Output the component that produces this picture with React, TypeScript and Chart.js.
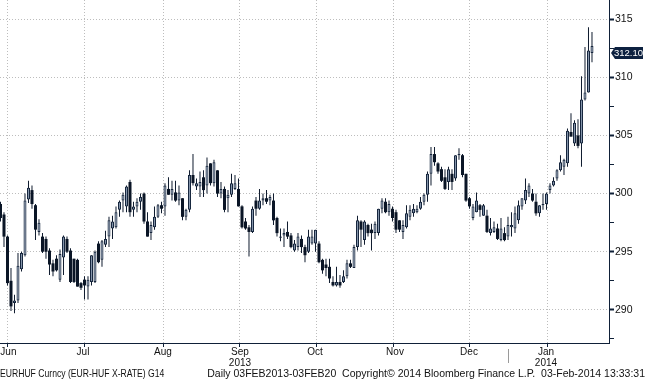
import React, { useEffect, useRef } from 'react';
import { Chart, registerables } from 'chart.js';

Chart.register(...registerables);

// Daily EUR-HUF candles, mid-June 2013 to 3 Feb 2014 (index = trading day)
const opens = [
  299.1, 298.2, 296.3, 292.5, 290.6, 290.8, 293.5, 294.7, 299.5, 300.3,
  299.0, 296.7, 296.3, 296.1, 295.1, 294.0, 294.4, 292.6, 294.5, 296.1,
  295.1, 294.4, 294.3, 292.3, 292.6, 292.0, 292.4, 292.4, 295.7, 294.3,
  295.6, 296.3, 297.0, 297.1, 298.6, 299.4, 298.9, 301.0, 298.6, 298.9,
  299.3, 300.0, 297.6, 296.6, 297.1, 298.0, 299.0, 298.9, 300.4, 299.9,
  300.1, 299.4, 299.6, 298.0, 298.6, 301.6, 300.6, 300.6, 301.4, 300.7,
  302.6, 300.9, 302.0, 300.0, 300.4, 299.6, 299.9, 300.4, 300.4, 298.9,
  297.6, 297.1, 296.7, 299.4, 298.7, 299.4, 299.6, 299.4, 299.4, 297.9,
  296.2, 296.4, 296.7, 296.4, 295.1, 295.4, 296.1, 295.4, 295.0, 295.7,
  295.7, 295.7, 294.3, 293.9, 293.7, 292.4, 292.1, 292.4, 292.4, 292.9,
  294.0, 293.6, 295.4, 297.6, 296.0, 297.3, 296.9, 296.6, 296.6, 298.7,
  299.3, 298.4, 298.7, 298.4, 297.7, 296.7, 297.1, 298.0, 298.3, 298.4,
  298.7, 299.3, 299.9, 301.7, 303.4, 302.6, 302.1, 301.4, 301.0, 301.7,
  301.3, 303.3, 303.3, 301.7, 299.6, 297.9, 298.4, 299.0, 298.1, 298.1,
  296.6, 296.7, 297.0, 296.0, 296.6, 296.3, 297.1, 297.0, 297.7, 298.9,
  299.4, 300.0, 300.0, 299.3, 298.3, 299.0, 299.1, 300.3, 300.7, 301.3,
  302.0, 302.3, 302.6, 305.3, 304.3, 305.0, 304.3, 308.1, 308.7, 312.1,
];
const highs = [
  299.3, 298.4, 296.4, 293.6, 291.3, 294.9, 295.0, 300.0, 301.1, 300.7,
  299.1, 297.8, 296.6, 296.3, 295.3, 294.3, 294.7, 295.2, 296.4, 296.3,
  295.3, 294.4, 294.4, 292.4, 292.9, 292.9, 294.7, 295.1, 295.9, 296.0,
  296.8, 298.0, 298.1, 298.9, 299.4, 300.1, 300.7, 301.2, 299.3, 299.6,
  300.0, 300.1, 298.4, 297.6, 298.9, 299.1, 299.3, 300.9, 301.4, 301.1,
  301.1, 300.7, 299.6, 298.7, 302.0, 303.4, 301.3, 301.9, 302.0, 303.1,
  302.6, 302.9, 302.0, 301.0, 300.6, 300.3, 301.7, 301.6, 301.3, 299.0,
  297.9, 297.3, 298.9, 299.7, 300.4, 300.0, 300.3, 299.9, 300.0, 298.0,
  297.0, 297.0, 297.6, 296.6, 296.0, 296.6, 296.4, 295.6, 296.9, 296.9,
  296.9, 295.9, 294.4, 294.4, 294.4, 292.9, 293.7, 293.0, 293.4, 294.3,
  294.3, 295.6, 298.1, 297.7, 297.7, 297.4, 297.4, 297.6, 298.7, 299.6,
  299.6, 299.4, 298.9, 298.6, 297.7, 297.7, 299.0, 299.0, 299.1, 299.0,
  299.7, 300.0, 301.9, 304.0, 304.0, 302.7, 302.3, 302.1, 302.3, 302.1,
  303.3, 303.9, 303.4, 301.7, 299.7, 299.1, 300.1, 299.1, 299.1, 298.6,
  297.9, 297.6, 297.4, 297.9, 297.1, 298.0, 298.4, 298.9, 299.4, 299.6,
  301.3, 300.9, 300.4, 300.0, 299.0, 300.0, 300.1, 300.9, 301.4, 302.1,
  303.3, 303.0, 305.6, 306.9, 306.3, 306.4, 310.1, 312.6, 314.3, 313.9,
];
const lows = [
  297.6, 295.4, 292.1, 289.9, 289.7, 290.6, 293.3, 294.6, 299.2, 298.7,
  296.0, 296.4, 294.9, 294.4, 293.0, 292.9, 293.3, 292.4, 293.0, 294.9,
  292.3, 292.3, 292.0, 291.7, 290.9, 290.9, 292.1, 292.3, 294.0, 293.7,
  295.4, 295.4, 296.1, 297.0, 298.0, 298.4, 298.4, 298.0, 298.0, 298.4,
  298.6, 297.4, 296.3, 296.0, 296.9, 297.9, 298.3, 298.1, 299.9, 299.4,
  299.3, 299.0, 297.7, 297.7, 298.4, 300.7, 300.3, 299.7, 299.7, 300.0,
  300.7, 300.6, 299.7, 299.6, 298.4, 298.4, 299.7, 300.3, 298.9, 297.0,
  296.9, 294.6, 296.6, 298.1, 298.6, 299.0, 299.1, 299.0, 297.3, 296.3,
  295.9, 295.4, 296.1, 295.3, 295.0, 295.1, 294.9, 294.1, 294.9, 295.6,
  295.0, 294.0, 293.1, 292.9, 292.3, 292.0, 292.0, 291.9, 292.3, 292.7,
  293.6, 293.6, 295.1, 295.4, 295.6, 296.3, 295.1, 296.1, 296.4, 298.3,
  298.3, 298.1, 297.6, 296.6, 296.7, 296.1, 297.0, 297.7, 298.0, 298.3,
  298.6, 299.0, 299.3, 300.7, 302.4, 301.7, 301.0, 300.3, 300.3, 300.3,
  301.1, 302.9, 301.4, 299.3, 298.7, 297.7, 298.4, 298.0, 298.1, 296.6,
  296.4, 296.6, 296.0, 295.9, 295.9, 296.0, 296.3, 296.6, 297.4, 298.6,
  299.1, 299.7, 299.3, 298.1, 298.0, 298.6, 298.6, 300.0, 300.6, 301.1,
  301.9, 301.6, 302.3, 304.9, 304.1, 303.9, 302.3, 308.0, 308.7, 311.3,
];
const closes = [
  297.9, 296.3, 292.3, 290.3, 290.8, 293.8, 294.9, 299.4, 300.5, 299.1,
  296.9, 297.5, 295.0, 295.0, 293.9, 293.3, 293.4, 294.8, 296.3, 295.0,
  292.4, 292.4, 292.0, 291.9, 292.1, 292.6, 294.7, 295.0, 294.1, 295.9,
  296.1, 297.7, 297.6, 298.4, 299.3, 299.9, 300.6, 298.4, 298.9, 299.3,
  299.7, 297.6, 296.3, 297.3, 298.0, 299.0, 298.7, 300.7, 299.9, 300.4,
  299.4, 300.1, 298.0, 298.6, 301.6, 300.9, 300.9, 301.0, 300.3, 302.4,
  300.9, 302.7, 300.0, 300.4, 298.6, 299.9, 300.9, 300.9, 298.9, 297.1,
  297.0, 296.7, 298.7, 298.7, 299.4, 299.6, 299.3, 299.7, 297.7, 296.6,
  296.3, 296.6, 296.3, 295.4, 295.7, 296.3, 295.4, 294.7, 296.3, 296.3,
  296.9, 294.1, 293.4, 293.6, 292.7, 292.1, 292.4, 292.1, 292.9, 294.0,
  293.7, 295.4, 297.7, 296.9, 297.6, 296.6, 296.6, 297.4, 298.7, 299.4,
  298.4, 299.1, 297.9, 296.9, 296.9, 297.3, 298.3, 298.6, 298.7, 298.7,
  299.3, 299.9, 301.7, 303.4, 302.7, 301.9, 301.1, 300.4, 302.1, 301.0,
  303.3, 303.4, 301.6, 299.4, 298.9, 298.9, 299.4, 298.6, 299.0, 296.7,
  297.0, 297.1, 296.1, 297.0, 296.0, 297.3, 297.3, 298.3, 299.0, 299.6,
  300.3, 300.7, 299.4, 298.3, 299.0, 299.1, 300.0, 300.7, 301.1, 302.0,
  302.7, 302.9, 305.4, 304.9, 306.1, 304.1, 308.1, 308.7, 312.3, 312.7,
];

const lastPrice = 312.1;
// month boundaries on the trading-day index axis (Jun, Jul, ..., Feb)
const monthTickIdx = [-8.6, 12.72, 35.57, 57.57, 79.0, 101.86, 123.0, 145.0, 167.86];
const monthLabels: (string | string[])[] = ['Jun', 'Jul', 'Aug', ['Sep', '2013'], 'Oct', 'Nov', 'Dec', ['Jan', '2014'], ''];
const yearBreakIdx = 145.0;
const priceTicks = [287.5, 290, 292.5, 295, 297.5, 300, 302.5, 305, 307.5, 310, 312.5, 315];

const X_MIN = -0.14;
const X_MAX = 173.86;
const Y_MIN = 287.15;
const Y_MAX = 316.65;

const W = 645;
const H = 368;
const FONT = '"Liberation Sans", Arial, sans-serif';
const AXIS = '#0f2038';
const GRID = '#bdbdbd';
const UP_FILL = '#8797ad';
const DOWN_FILL = '#0a1526';
const EDGE = '#16263d';
const WICK = '#0f1b2e';

const priceTagPlugin = {
  id: 'priceTag',
  afterDraw(chart: any) {
    const { ctx, scales, chartArea } = chart;
    const py = Math.round(scales.y.getPixelForValue(lastPrice));
    const r = chartArea.right;
    ctx.save();
    ctx.fillStyle = '#0d2140';
    ctx.beginPath();
    ctx.moveTo(r + 2, py);
    ctx.lineTo(r + 6, py - 6);
    ctx.lineTo(r + 34, py - 6);
    ctx.lineTo(r + 34, py + 6);
    ctx.lineTo(r + 6, py + 6);
    ctx.closePath();
    ctx.fill();
    ctx.fillStyle = '#ffffff';
    ctx.font = '9.5px ' + FONT;
    ctx.textBaseline = 'middle';
    ctx.textAlign = 'center';
    ctx.fillText(lastPrice.toFixed(2), r + 19.5, py + 0.5);
    const sx = Math.round(scales.x.getPixelForValue(yearBreakIdx)) + 0.5;
    ctx.strokeStyle = '#9a9a9a';
    ctx.lineWidth = 1;
    ctx.beginPath();
    ctx.moveTo(sx, chartArea.bottom + 6);
    ctx.lineTo(sx, chartArea.bottom + 20);
    ctx.stroke();
    ctx.restore();
  },
};

export default function App() {
  const ref = useRef<HTMLCanvasElement>(null);

  useEffect(() => {
    const canvas = ref.current;
    if (!canvas) return;
    const idx = closes.map((_, i) => i);
    const up = idx.map((i) => closes[i] >= opens[i]);
    const chart = new Chart(canvas, {
      type: 'bar',
      data: {
        datasets: [
          {
            label: 'body',
            data: idx.map((i) => ({ x: i, y: [Math.min(opens[i], closes[i]), Math.max(opens[i], closes[i])] })) as any,
            backgroundColor: up.map((u) => (u ? UP_FILL : DOWN_FILL)),
            borderColor: EDGE,
            borderWidth: up.map((u) => (u ? 1 : 0)),
            borderSkipped: false,
            grouped: false,
            categoryPercentage: 1,
            barPercentage: 0.86,
            minBarLength: 1,
          } as any,
          {
            label: 'wick',
            data: idx.map((i) => ({ x: i, y: [lows[i], highs[i]] })) as any,
            backgroundColor: WICK,
            borderWidth: 0,
            grouped: false,
            categoryPercentage: 1,
            barPercentage: 0.3,
            maxBarThickness: 1,
          } as any,
        ],
      },
      options: {
        animation: false,
        responsive: false,
        devicePixelRatio: 1,
        layout: { padding: 0 },
        plugins: { legend: { display: false }, tooltip: { enabled: false }, title: { display: false } },
        scales: {
          x: {
            type: 'linear',
            min: X_MIN,
            max: X_MAX,
            offset: false,
            afterBuildTicks: (s: any) => {
              s.ticks = monthTickIdx.map((v) => ({ value: v }));
            },
            afterFit: (s: any) => {
              s.height = H - 343;
              s.paddingLeft = 0;
              s.paddingRight = 0;
            },
            grid: { color: GRID, lineWidth: 1, drawTicks: true, tickLength: 4, tickColor: AXIS, tickWidth: 1 },
            border: { display: true, color: AXIS, width: 1, dash: [1, 2] },
            ticks: {
              autoSkip: false,
              maxRotation: 0,
              minRotation: 0,
              padding: -1,
              labelOffset: 38,
              color: '#111111',
              font: { family: FONT, size: 10, lineHeight: 1.15 },
              callback: (_v: any, i: number) => monthLabels[i] as any,
            },
          } as any,
          y: {
            type: 'linear',
            position: 'right',
            min: Y_MIN,
            max: Y_MAX,
            afterBuildTicks: (s: any) => {
              s.ticks = priceTicks.map((v) => ({ value: v }));
            },
            afterFit: (s: any) => {
              s.width = W - 609;
              s.paddingTop = 0;
              s.paddingBottom = 0;
            },
            grid: {
              color: (c: any) => (c.tick && c.tick.value % 5 === 0 ? GRID : 'rgba(0,0,0,0)'),
              lineWidth: 1,
              drawTicks: true,
              tickLength: 5,
              tickColor: AXIS,
              tickWidth: (c: any) => (c.tick && c.tick.value % 5 === 0 ? 2 : 1),
            },
            border: { display: true, color: AXIS, width: 1, dash: [1, 2] },
            ticks: {
              padding: 1,
              color: '#111111',
              font: { family: FONT, size: 10.5 },
              callback: (v: any) => (Number(v) % 5 === 0 ? String(v) : ''),
            },
          } as any,
        },
      },
      plugins: [priceTagPlugin],
    });
    return () => chart.destroy();
  }, []);

  const footStyle: React.CSSProperties = {
    position: 'absolute',
    top: 367,
    fontFamily: FONT,
    fontSize: 10.5,
    lineHeight: '12px',
    color: '#111111',
    whiteSpace: 'pre',
  };

  return (
    <div style={{ position: 'fixed', left: 0, top: 0, width: W, height: 380, background: '#ffffff', overflow: 'hidden' }}>
      <canvas ref={ref} width={W} height={H} style={{ position: 'absolute', left: 0, top: 0, width: W, height: H }} />
      <span style={{ ...footStyle, left: 0, transform: 'scaleX(0.82)', transformOrigin: 'left top' }}>
        EURHUF Curncy (EUR-HUF X-RATE) G14
      </span>
      <span style={{ ...footStyle, right: 0, transformOrigin: 'right top' }}>
        {'Daily 03FEB2013-03FEB20  Copyright\u00a9 2014 Bloomberg Finance L.P.  03-Feb-2014 13:33:31'}
      </span>
    </div>
  );
}
